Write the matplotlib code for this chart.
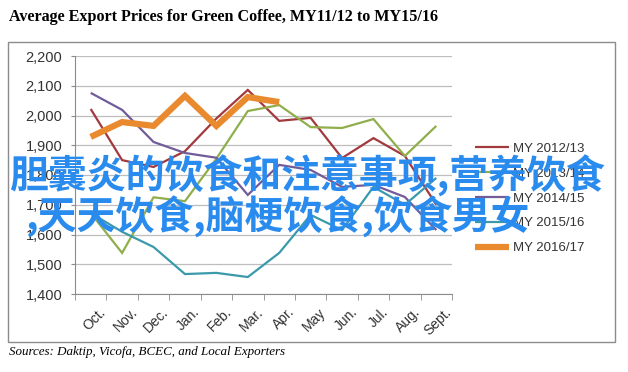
import matplotlib.pyplot as plt
import matplotlib.patches as mpatches
import matplotlib.transforms as mtransforms
import numpy as np

# data
months = ['Oct.', 'Nov.', 'Dec.', 'Jan.', 'Feb.', 'Mar.', 'Apr.', 'May', 'Jun.', 'Jul.', 'Aug.', 'Sept.']
my_2012 = [2022, 1850, 1827, 1880, 1990, 2086, 1982, 1992, 1857, 1924, 1864, 1700]
my_2013 = [1672, 1538, 1725, 1712, 1855, 2015, 2035, 1961, 1958, 1988, 1864, 1965]
my_2014 = [2076, 2019, 1911, 1874, 1858, 1733, 1834, 1817, 1760, 1767, 1726, 1615]
my_2015 = [1672, 1609, 1558, 1467, 1471, 1457, 1538, 1666, 1615, 1760, 1700, 1790]
my_2016 = [1928, 1978, 1965, 2066, 1965, 2062, 2045]

series = [
    ('MY 2012/13', my_2012, '#A2393D', 1.6),
    ('MY 2013/14', my_2013, '#90AE4B', 1.6),
    ('MY 2014/15', my_2014, '#715C99', 1.6),
    ('MY 2015/16', my_2015, '#3A9AAB', 1.6),
    ('MY 2016/17', my_2016, '#E98A2F', 4.5),
]

W, H = 628, 372
fig = plt.figure(figsize=(W / 100, H / 100), dpi=100)

# outer chart frame
fig.patches.append(mpatches.Rectangle((8 / W, 1 - 342 / H), 607 / W, 300 / H,
                                      transform=fig.transFigure, fill=False,
                                      edgecolor='#8C8C8C', linewidth=1.0))

ax = fig.add_axes([75 / W, 1 - 294 / H, 377 / W, 238 / H])
x = np.arange(len(months)) + 0.5
for name, vals, col, lw in series:
    ax.plot(x[:len(vals)], vals, color=col, linewidth=lw, label=name,
            solid_joinstyle='miter', solid_capstyle='butt')

ax.set_xlim(0, 12)
ax.set_ylim(1400, 2200)
ax.set_yticks(np.arange(1400, 2201, 100))
ax.set_yticklabels(['{:,}'.format(v) for v in range(1400, 2201, 100)])
ax.yaxis.grid(True, color='#BDBDBD', linewidth=0.9)
ax.set_axisbelow(True)
ax.set_xticks(np.arange(0, 13), minor=True)
ax.set_xticks(x)
ax.set_xticklabels(months, rotation=45, ha='right', rotation_mode='anchor')
ax.tick_params(axis='x', which='major', length=0, pad=8, labelsize=10, labelcolor='#333333')
ax.tick_params(axis='x', which='minor', length=4, color='#8C8C8C')
ax.tick_params(axis='y', length=3, color='#8C8C8C', labelsize=10.5, labelcolor='#333333', pad=6)
offset = mtransforms.ScaledTranslation(8 / 100, 0, fig.dpi_scale_trans)
for lab in ax.get_xticklabels():
    lab.set_transform(lab.get_transform() + offset)
    lab.set_fontfamily('Liberation Sans')
for lab in ax.get_yticklabels():
    lab.set_fontfamily('Liberation Sans')
for s in ['top', 'right']:
    ax.spines[s].set_visible(False)
for s in ['left', 'bottom']:
    ax.spines[s].set_color('#8C8C8C')

leg = ax.legend(loc='upper left', bbox_to_anchor=(463 / W, 1 - 131 / H),
                bbox_transform=fig.transFigure, frameon=False, handlelength=2.6,
                handletextpad=0.3, labelspacing=0.95,
                prop={'family': 'Liberation Sans', 'size': 9.5})
for t in leg.get_texts():
    t.set_color('#333333')

fig.text(9 / W, 1 - 17 / H, 'Average Export Prices for Green Coffee, MY11/12 to MY15/16',
         family='Liberation Serif', weight='bold', size=11.6, va='center', ha='left')
fig.text(9 / W, 1 - 352 / H, 'Sources: Daktip, Vicofa, BCEC, and Local Exporters',
         family='Liberation Serif', style='italic', size=9.4, va='center', ha='left')

# overlaid caption text
cap = dict(family=['Noto Sans CJK SC', 'DejaVu Sans'], weight='bold', size=28,
           color='#2A8BEE', va='center', ha='left')
fig.text(9 / W, 1 - 176 / H, '胆囊炎的饮食和注意事项,营养饮食', **cap)
fig.text(26 / W, 1 - 217 / H, ',天天饮食,脑梗饮食,饮食男女', **cap)

fig.savefig('out.png', dpi=100)
